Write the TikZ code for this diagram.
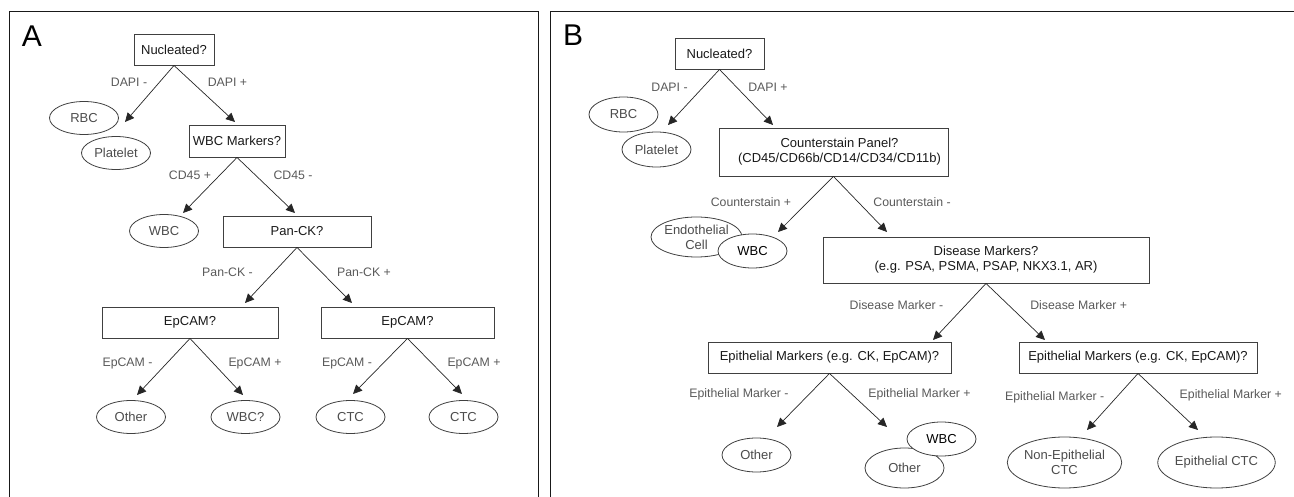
\documentclass[tikz,border=0pt]{standalone}
\usepackage{fontspec}
\setmainfont{Liberation Sans}
\usetikzlibrary{shapes.geometric,arrows.meta}
\begin{document}
\begin{tikzpicture}[x=1pt,y=-1pt,
  qbox/.style={draw=black!75,line width=0.9pt,inner sep=0pt,font=\fontsize{13}{15}\selectfont,text=black!90,align=center},
  cell/.style={ellipse,draw=black!75,line width=0.8pt,fill=white,inner sep=0pt,font=\fontsize{13}{15}\selectfont,text=black!70,minimum width=69pt,minimum height=33pt,align=center},
  bcell/.style={cell,text=black},
  lbl/.style={font=\fontsize{12.3}{14}\selectfont,text=black!65,inner sep=0pt},
  arr/.style={draw=black!85,line width=0.7pt,-{Triangle[length=9pt,width=8.5pt]}},
  panel/.style={line width=1pt,draw=black!90},
  plabel/.style={font=\fontsize{30}{30}\selectfont,inner sep=0pt}]
\useasboundingbox (0,0) rectangle (1294,497);
% panel frames
\draw[panel] (9,498) -- (9,12) -- (538,12) -- (538,498);
\draw[panel] (550,498) -- (550,12) -- (1295,12);

% ---------------- Panel A ----------------
\node[plabel] (labA) at (32,36) {A};
\node[qbox,minimum width=80pt,minimum height=31pt] (a1) at (174,49.5) {Nucleated?};
\node[cell] (aRBC) at (84,118) {RBC};
\node[cell] (aPl) at (116,153) {Platelet};
\node[qbox,minimum width=96pt,minimum height=32pt] (a2) at (237,141) {WBC Markers?};
\node[cell] (aWBC) at (164,231) {WBC};
\node[qbox,minimum width=148pt,minimum height=31pt] (a3) at (297,231.5) {Pan-CK?};
\node[qbox,minimum width=176pt,minimum height=31pt] (a4) at (190,322.5) {EpCAM?};
\node[qbox,minimum width=173pt,minimum height=31pt] (a5) at (407.5,322.5) {EpCAM?};
\node[cell] (aO) at (131,417) {Other};
\node[cell] (aW2) at (245.5,417) {WBC?};
\node[cell] (aC1) at (350.5,417) {CTC};
\node[cell] (aC2) at (463.5,417) {CTC};

\coordinate (ta1l) at (125,122);
\coordinate (ta1r) at (235,122);
\coordinate (ta2l) at (183,213);
\coordinate (ta2r) at (295,213);
\coordinate (ta3l) at (245,303);
\coordinate (ta3r) at (352,303);
\coordinate (ta4l) at (137,395);
\coordinate (ta4r) at (243,395);
\coordinate (ta5l) at (353,394);
\coordinate (ta5r) at (462,394);

\draw[arr] (a1.south) -- (ta1l);
\draw[arr] (a1.south) -- (ta1r);
\draw[arr] (a2.south) -- (ta2l);
\draw[arr] (a2.south) -- (ta2r);
\draw[arr] (a3.south) -- (ta3l);
\draw[arr] (a3.south) -- (ta3r);
\draw[arr] (a4.south) -- (ta4l);
\draw[arr] (a4.south) -- (ta4r);
\draw[arr] (a5.south) -- (ta5l);
\draw[arr] (a5.south) -- (ta5r);

\node[lbl] (la1l) at (129,82) {DAPI -};
\node[lbl] (la1r) at (227.5,82) {DAPI +};
\node[lbl] (la2l) at (190,175) {CD45 +};
\node[lbl] (la2r) at (293,175) {CD45 -};
\node[lbl] (la3l) at (227.5,272) {Pan-CK -};
\node[lbl] (la3r) at (364,272) {Pan-CK +};
\node[lbl] (la4l) at (127.5,363) {EpCAM -};
\node[lbl] (la4r) at (255,363) {EpCAM +};
\node[lbl] (la5l) at (347,363) {EpCAM -};
\node[lbl] (la5r) at (474,363) {EpCAM +};

% ---------------- Panel B ----------------
\node[plabel] (labB) at (573,35) {B};
\node[qbox,minimum width=89pt,minimum height=31pt] (b1) at (719.5,53.5) {Nucleated?};
\node[cell,minimum height=35pt] (bRBC) at (623.5,114.5) {RBC};
\node[cell,minimum height=35pt] (bPl) at (656.5,149.5) {Platelet};
\node[qbox,minimum width=229pt,minimum height=48pt] (b2) at (833.5,152) {\hspace*{12pt}Counterstain Panel?\\\hspace*{12pt}(CD45/CD66b/CD14/CD34/CD11b)};
\node[cell,minimum width=81pt,minimum height=40pt] (bEnd) at (696.5,237) {Endothelial\\Cell};
\node[bcell,minimum height=34pt] (bW1) at (752.5,251) {WBC};
\node[qbox,minimum width=326pt,minimum height=46pt] (b3) at (986,260) {Disease Markers?\\(e.g. PSA, PSMA, PSAP, NKX3.1, AR)};
\node[qbox,minimum width=243pt,minimum height=31pt] (b4) at (829.5,357.5) {Epithelial Markers (e.g. CK, EpCAM)?};
\node[qbox,minimum width=238pt,minimum height=31pt] (b5) at (1138,357.5) {Epithelial Markers (e.g. CK, EpCAM)?};
\node[cell,minimum height=34pt] (bO1) at (756.5,455) {Other};
\node[cell,minimum width=79pt,minimum height=40pt] (bO2) at (904.5,468) {Other};
\node[bcell,minimum height=34pt] (bW2) at (941.5,439) {WBC};
\node[cell,minimum width=107pt,minimum height=51pt] (bN) at (1064.5,462.5) {Non-Epithelial\\CTC};
\node[cell,minimum width=107pt,minimum height=51pt] (bE) at (1216.5,462.5) {Epithelial CTC};

\coordinate (tb1l) at (668,125);
\coordinate (tb1r) at (773,125);
\coordinate (tb2l) at (778,232);
\coordinate (tb2r) at (887,232);
\coordinate (tb3l) at (933,340);
\coordinate (tb3r) at (1045,340);
\coordinate (tb4l) at (777,427);
\coordinate (tb4r) at (887,427);
\coordinate (tb5l) at (1087,430);
\coordinate (tb5r) at (1198,430);

\draw[arr] (b1.south) -- (tb1l);
\draw[arr] (b1.south) -- (tb1r);
\draw[arr] (b2.south) -- (tb2l);
\draw[arr] (b2.south) -- (tb2r);
\draw[arr] (b3.south) -- (tb3l);
\draw[arr] (b3.south) -- (tb3r);
\draw[arr] (b4.south) -- (tb4l);
\draw[arr] (b4.south) -- (tb4r);
\draw[arr] (b5.south) -- (tb5l);
\draw[arr] (b5.south) -- (tb5r);

\node[lbl] (lb1l) at (669.5,87) {DAPI -};
\node[lbl] (lb1r) at (768,87) {DAPI +};
\node[lbl] (lb2l) at (751,202) {Counterstain +};
\node[lbl] (lb2r) at (912,202) {Counterstain -};
\node[lbl] (lb3l) at (896.5,305) {Disease Marker -};
\node[lbl] (lb3r) at (1078.7,305) {Disease Marker +};
\node[lbl] (lb4l) at (739,394) {Epithelial Marker -};
\node[lbl] (lb4r) at (919.5,394) {Epithelial Marker +};
\node[lbl] (lb5l) at (1054.7,397) {Epithelial Marker -};
\node[lbl] (lb5r) at (1230.8,395) {Epithelial Marker +};
\end{tikzpicture}
\end{document}
